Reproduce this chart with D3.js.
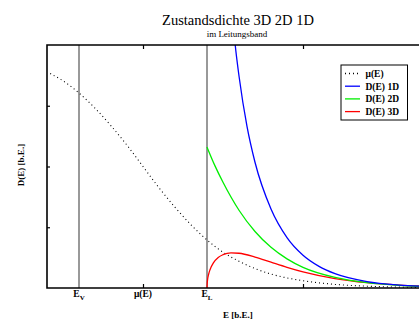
<!DOCTYPE html>
<html>
<head>
<meta charset="utf-8">
<script src="https://cdn.jsdelivr.net/npm/d3@7"></script>
<style>
  body { margin: 0; background: #fff; }
  svg { display: block; font-family: "Liberation Serif", "Times New Roman", serif; }
  .bold { font-weight: bold; }
</style>
</head>
<body>
<svg id="chart"></svg>
<script>
// DATEN
const energie = [0.1, 0.5, 1, 1.5, 2, 2.5, 3, 3.5, 4, 4.5, 5, 5.5, 6, 6.5, 7, 8, 9, 10, 11, 12];
const mu = [3.53, 3.41, 3.21, 2.96, 2.67, 2.35, 2.0, 1.65, 1.33, 1.04, 0.79, 0.59, 0.44, 0.32, 0.23, 0.12, 0.06, 0.03, 0.015, 0.007];

const energie1D = [5.8, 5.9, 6, 6.25, 6.5, 7, 7.5, 8, 8.5, 9, 10, 11, 12];
const dos1D = [4.41, 3.91, 3.49, 2.66, 2.07, 1.30, 0.83, 0.54, 0.357, 0.237, 0.106, 0.048, 0.022];

const energie2D = [5, 5.25, 5.5, 6, 6.5, 7, 7.5, 8, 9, 10, 11, 12];
const dos2D = [2.32, 2.01, 1.74, 1.28, 0.93, 0.67, 0.48, 0.34, 0.174, 0.087, 0.043, 0.022];

const energie3D = [5, 5.01, 5.05, 5.1, 5.2, 5.35, 5.5, 5.75, 6, 6.5, 7, 7.5, 8, 9, 10, 11, 12];
const dos3D = [0, 0.103, 0.225, 0.309, 0.413, 0.502, 0.548, 0.578, 0.572, 0.51, 0.425, 0.341, 0.266, 0.155, 0.087, 0.047, 0.026];

const E_V = 1, E_L = 5, muWert = 3;
const xTicks = [3, 8];
const yTicks = [1, 2, 3];

const legende = [
  { name: "\u03bc(E)", farbe: "#000", dash: "1,3" },
  { name: "D(E) 1D", farbe: "#0000ff", dash: null },
  { name: "D(E) 2D", farbe: "#00ee00", dash: null },
  { name: "D(E) 3D", farbe: "#ff0000", dash: null }
];

// GROESSE
const width = 419, height = 321;
const mLinks = 47, mOben = 45, mUnten = 288;

const svg = d3.select("#chart").attr("width", width).attr("height", height);

// SKALEN
const x = d3.scaleLinear().domain([0, 12]).range([mLinks, mLinks + 384]);
const y = d3.scaleLinear().domain([0, 4]).range([mUnten, mOben]);

svg.append("clipPath").attr("id", "clip")
  .append("rect")
  .attr("x", mLinks).attr("y", mOben)
  .attr("width", 384).attr("height", mUnten - mOben);

// TITEL
svg.append("text").attr("x", 238).attr("y", 25).attr("text-anchor", "middle")
  .attr("font-size", 14.5).text("Zustandsdichte 3D 2D 1D");
svg.append("text").attr("x", 237).attr("y", 37).attr("text-anchor", "middle")
  .attr("font-size", 9).text("im Leitungsband");

// SENKRECHTE LINIEN E_V / E_L
[E_V, E_L].forEach(e => {
  svg.append("line")
    .attr("x1", x(e)).attr("x2", x(e))
    .attr("y1", mOben).attr("y2", mUnten)
    .attr("stroke", "#777").attr("stroke-width", 1.5);
});

// KURVEN
const linie = d3.line()
  .x(d => x(d[0]))
  .y(d => y(d[1]))
  .curve(d3.curveMonotoneX);

const kurven = [
  { xs: energie, ys: mu, farbe: "#000", dash: "1,3", w: 1.1 },
  { xs: energie3D, ys: dos3D, farbe: "#ff0000", dash: null, w: 1.3 },
  { xs: energie2D, ys: dos2D, farbe: "#00ee00", dash: null, w: 1.3 },
  { xs: energie1D, ys: dos1D, farbe: "#0000ff", dash: null, w: 1.3 }
];

const gk = svg.append("g").attr("clip-path", "url(#clip)");
kurven.forEach(k => {
  gk.append("path")
    .datum(k.xs.map((e, i) => [e, k.ys[i]]))
    .attr("d", linie)
    .attr("fill", "none")
    .attr("stroke", k.farbe)
    .attr("stroke-width", k.w)
    .attr("stroke-dasharray", k.dash);
});

// ACHSEN (Ticks nach innen)
svg.append("g").attr("transform", `translate(0,${mUnten})`)
  .call(d3.axisBottom(x).tickValues(xTicks).tickSize(-4).tickFormat(""))
  .call(g => g.select(".domain").remove());
svg.append("g").attr("transform", `translate(0,${mOben})`)
  .call(d3.axisTop(x).tickValues(xTicks).tickSize(-4).tickFormat(""))
  .call(g => g.select(".domain").remove());
svg.append("g").attr("transform", `translate(${mLinks},0)`)
  .call(d3.axisLeft(y).tickValues(yTicks).tickSize(-3).tickFormat(""))
  .call(g => g.select(".domain").remove());
svg.selectAll(".tick line").attr("stroke", "#000").attr("stroke-width", 1.2);

// RAHMEN
svg.append("path")
  .attr("d", `M${width},${mOben}H${mLinks}V${mUnten}H${width}`)
  .attr("fill", "none").attr("stroke", "#000").attr("stroke-width", 1.6);

// TICK-BESCHRIFTUNG
const lab = svg.append("g").attr("class", "bold").attr("font-size", 9.5);
const ev = lab.append("text").attr("x", x(E_V)).attr("y", 297).attr("text-anchor", "middle");
ev.append("tspan").text("E");
ev.append("tspan").attr("dy", 3).attr("font-size", 7).text("V");
lab.append("text").attr("x", x(muWert)).attr("y", 297).attr("text-anchor", "middle").text("\u03bc(E)");
const el = lab.append("text").attr("x", x(E_L)).attr("y", 297).attr("text-anchor", "middle");
el.append("tspan").text("E");
el.append("tspan").attr("dy", 3).attr("font-size", 7).text("L");

// ACHSENTITEL
svg.append("text").attr("class", "bold").attr("font-size", 9)
  .attr("x", 238).attr("y", 318).attr("text-anchor", "middle").text("E [b.E.]");
svg.append("text").attr("class", "bold").attr("font-size", 9)
  .attr("transform", "translate(24,165) rotate(-90)")
  .attr("text-anchor", "middle").text("D(E) [b.E.]");

// LEGENDE
const lg = svg.append("g");
lg.append("rect").attr("x", 341).attr("y", 65).attr("width", 66.5).attr("height", 55)
  .attr("fill", "#fff").attr("stroke", "#000").attr("stroke-width", 1);
legende.forEach((d, i) => {
  const yy = 73.5 + i * 12.7;
  lg.append("line").attr("x1", 345).attr("x2", 360).attr("y1", yy).attr("y2", yy)
    .attr("stroke", d.farbe).attr("stroke-width", 1.3).attr("stroke-dasharray", d.dash);
  lg.append("text").attr("class", "bold").attr("font-size", 9.5)
    .attr("x", 365.5).attr("y", yy + 3.3).text(d.name);
});
</script>
</body>
</html>
